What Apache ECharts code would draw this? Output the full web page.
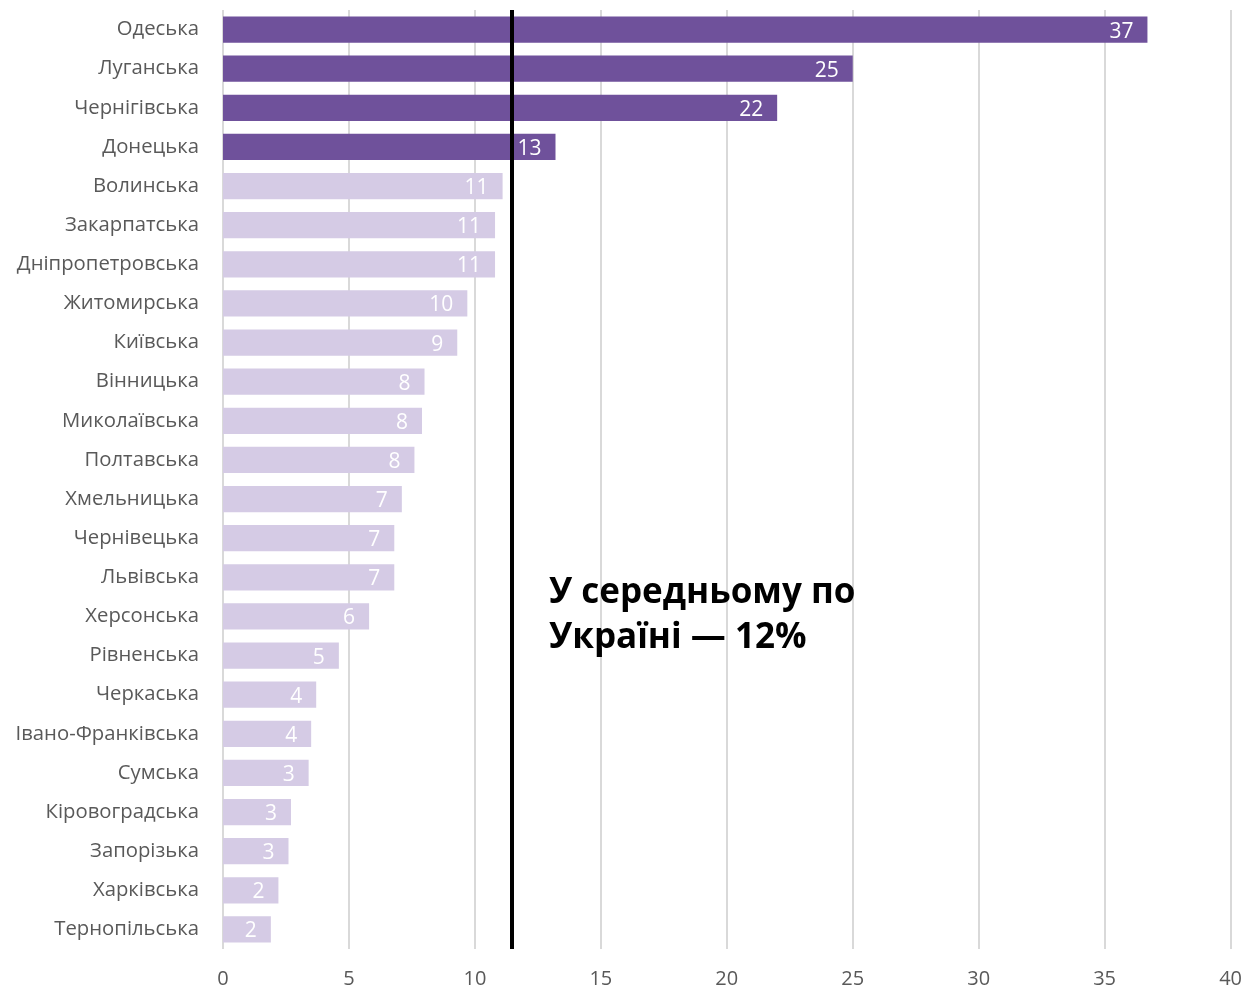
<!DOCTYPE html>
<html><head><meta charset="utf-8">
<script src="https://cdn.jsdelivr.net/npm/echarts@6/dist/echarts.min.js"></script>
<style>html,body{margin:0;padding:0;background:#fff}#c{width:1245px;height:989px}</style>
</head><body><div id="c"></div>
<script>
const categories = ["Одеська","Луганська","Чернігівська","Донецька","Волинська","Закарпатська","Дніпропетровська","Житомирська","Київська","Вінницька","Миколаївська","Полтавська","Хмельницька","Чернівецька","Львівська","Херсонська","Рівненська","Черкаська","Івано-Франківська","Сумська","Кіровоградська","Запорізька","Харківська","Тернопільська"];
const values = [36.7,25.0,22.0,13.2,11.1,10.8,10.8,9.7,9.3,8.0,7.9,7.6,7.1,6.8,6.8,5.8,4.6,3.7,3.5,3.4,2.7,2.6,2.2,1.9];
const highlighted = [true,true,true,true,false,false,false,false,false,false,false,false,false,false,false,false,false,false,false,false,false,false,false,false];
const averageValue = 11.45;
const averageText = "У середньому по\nУкраїні — 12%";
const xTicks = {min:0, max:40, interval:5};

const chart = echarts.init(document.getElementById('c'));
const FONT = "Open Sans";
chart.setOption({
  animation:false,
  title:{text:averageText,left:545,top:567,padding:4,
    textStyle:{fontFamily:FONT,fontWeight:'bold',fontSize:35,color:'#000',lineHeight:45,width:400,overflow:'none'}},
  grid:{left:223,right:13,top:10,bottom:39,containLabel:false},
  xAxis:{type:'value',min:xTicks.min,max:xTicks.max,interval:xTicks.interval,
    axisLine:{show:false},axisTick:{show:false},
    axisLabel:{color:'#595959',fontSize:20,fontFamily:FONT,margin:20},
    splitLine:{lineStyle:{color:'#D9D9D9',width:2}}},
  yAxis:{type:'category',data:categories,inverse:true,
    axisLine:{show:false},axisTick:{show:false},
    axisLabel:{color:'#595959',fontSize:20.3,fontFamily:FONT,margin:24}},
  series:[{type:'bar',barCategoryGap:'33%',
    data:values.map((v,i)=>({value:v,itemStyle:{color:highlighted[i]?'#6F519B':'#D5CBE5'}})),
    label:{show:true,position:'insideRight',distance:14,color:'#fff',fontSize:21,fontFamily:FONT,
      offset:[0,2],formatter:p=>Math.round(p.value)},
    markLine:{silent:true,symbol:'none',label:{show:false},
      lineStyle:{color:'#000',width:4,type:'solid'},
      data:[{xAxis:averageValue}]}
  }]
});
</script></body></html>
